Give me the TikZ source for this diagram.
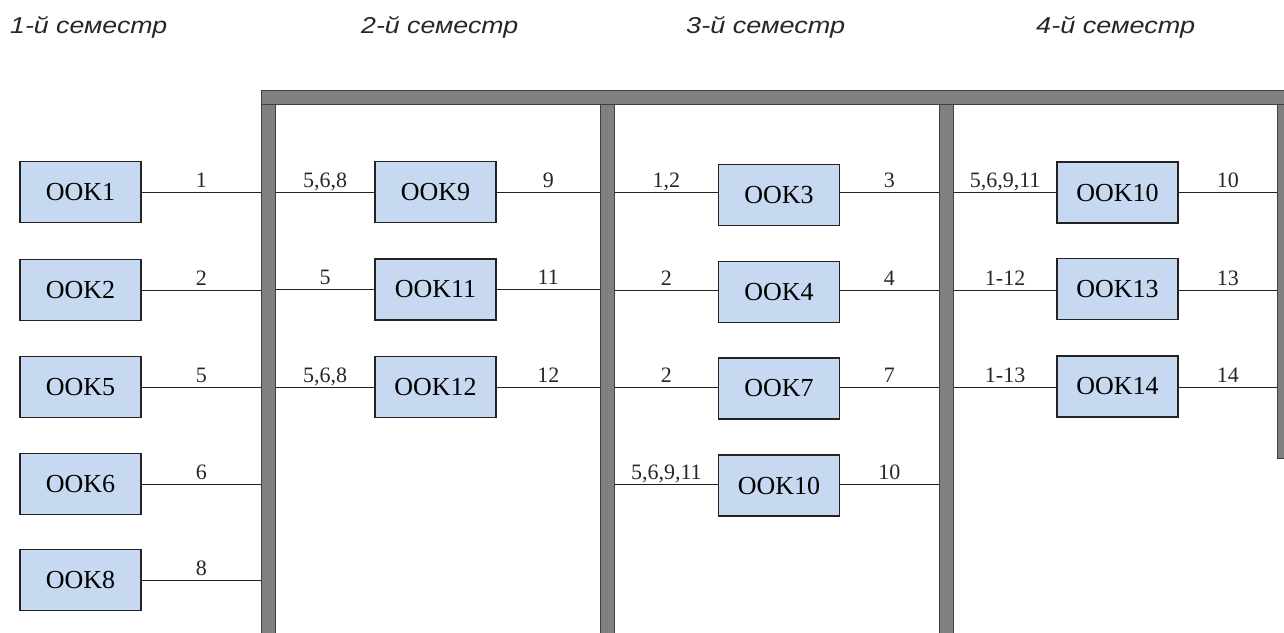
\documentclass[tikz,border=0pt]{standalone}
\usepackage{fontspec}
\setmainfont{Liberation Serif}
\newfontfamily\titlefont{Liberation Sans}
\definecolor{boxfill}{RGB}{198,217,240}
\definecolor{barfill}{RGB}{128,128,128}
\definecolor{linec}{RGB}{35,35,35}
\begin{document}
\begin{tikzpicture}[x=1pt,y=-1pt,
  ook/.style={draw=linec, line width=1.2pt, fill=boxfill, minimum width=121pt, minimum height=61pt, inner sep=0pt, font=\fontsize{26}{26}\selectfont},
  lbl/.style={anchor=base, inner sep=0pt, yshift=5pt, font=\fontsize{22}{22}\selectfont, text=black!85},
  ttl/.style={anchor=base west, inner sep=0pt, text=black!85, font=\titlefont\itshape\fontsize{23}{23}\selectfont},
  barbox/.style={draw=black!75, line width=0.8pt, fill=barfill, inner sep=0pt, anchor=north west},
  conn/.style={draw=linec, line width=1pt}]
\useasboundingbox (0,0) rectangle (1284,632);
\clip (0,0) rectangle (1284,632);
% titles
\node[ttl] (t1) at (10,33) {\resizebox{157pt}{\height}{1-й семестр}};
\node[ttl] (t2) at (361,33) {\resizebox{157pt}{\height}{2-й семестр}};
\node[ttl] (t3) at (686,33) {\resizebox{159pt}{\height}{3-й семестр}};
\node[ttl] (t4) at (1036,33) {\resizebox{159pt}{\height}{4-й семестр}};
% bars
\node[barbox, minimum width=14pt, minimum height=545pt] (bar1) at (261,100) {};
\node[barbox, minimum width=14pt, minimum height=545pt] (bar2) at (600,100) {};
\node[barbox, minimum width=14.5pt, minimum height=545pt] (bar3) at (938.5,100) {};
\node[barbox, minimum width=14pt, minimum height=358pt] (bar4) at (1277,100) {};
\node[barbox, minimum width=1040pt, minimum height=14pt] (top) at (261,90) {};
% rows
\coordinate (r1) at (0,192);
\coordinate (r2) at (0,290);
\coordinate (r3) at (0,387);
\coordinate (r4) at (0,484);
\coordinate (r5) at (0,580);
% column 1
\node[ook] (a1) at (80.5,192) {OOK1};
\node[ook] (a2) at (80.5,290) {OOK2};
\node[ook] (a5) at (80.5,387) {OOK5};
\node[ook] (a6) at (80.5,484) {OOK6};
\node[ook] (a8) at (80.5,580) {OOK8};
\draw[conn] (a1.east) -- node[lbl] {1} (a1.east -| bar1.west);
\draw[conn] (a2.east) -- node[lbl] {2} (a2.east -| bar1.west);
\draw[conn] (a5.east) -- node[lbl] {5} (a5.east -| bar1.west);
\draw[conn] (a6.east) -- node[lbl] {6} (a6.east -| bar1.west);
\draw[conn] (a8.east) -- node[lbl] {8} (a8.east -| bar1.west);
% column 2
\node[ook] (b9) at (435.5,192) {OOK9};
\node[ook] (b11) at (435.5,289.5) {OOK11};
\node[ook] (b12) at (435.5,387) {OOK12};
\draw[conn] (b9.west -| bar1.east) -- node[lbl] {5,6,8} (b9.west);
\draw[conn] (b9.east) -- node[lbl] {9} (b9.east -| bar2.west);
\draw[conn] (b11.west -| bar1.east) -- node[lbl] {5} (b11.west);
\draw[conn] (b11.east) -- node[lbl] {11} (b11.east -| bar2.west);
\draw[conn] (b12.west -| bar1.east) -- node[lbl] {5,6,8} (b12.west);
\draw[conn] (b12.east) -- node[lbl] {12} (b12.east -| bar2.west);
% column 3
\node[ook] (c3) at (779,195) {OOK3};
\node[ook] (c4) at (779,292) {OOK4};
\node[ook] (c7) at (779,388.5) {OOK7};
\node[ook] (c10) at (779,485.5) {OOK10};
\draw[conn] (bar2.east |- r1) -- node[lbl] {1,2} (c3.west |- r1);
\draw[conn] (c3.east |- r1) -- node[lbl] {3} (bar3.west |- r1);
\draw[conn] (bar2.east |- r2) -- node[lbl] {2} (c4.west |- r2);
\draw[conn] (c4.east |- r2) -- node[lbl] {4} (bar3.west |- r2);
\draw[conn] (bar2.east |- r3) -- node[lbl] {2} (c7.west |- r3);
\draw[conn] (c7.east |- r3) -- node[lbl] {7} (bar3.west |- r3);
\draw[conn] (bar2.east |- r4) -- node[lbl] {5,6,9,11} (c10.west |- r4);
\draw[conn] (c10.east |- r4) -- node[lbl] {10} (bar3.west |- r4);
% column 4
\node[ook] (d10) at (1117.5,192.5) {OOK10};
\node[ook] (d13) at (1117.5,289) {OOK13};
\node[ook] (d14) at (1117.5,386.5) {OOK14};
\draw[conn] (bar3.east |- r1) -- node[lbl] {5,6,9,11} (d10.west |- r1);
\draw[conn] (d10.east |- r1) -- node[lbl] {10} (bar4.west |- r1);
\draw[conn] (bar3.east |- r2) -- node[lbl] {1-12} (d13.west |- r2);
\draw[conn] (d13.east |- r2) -- node[lbl] {13} (bar4.west |- r2);
\draw[conn] (bar3.east |- r3) -- node[lbl] {1-13} (d14.west |- r3);
\draw[conn] (d14.east |- r3) -- node[lbl] {14} (bar4.west |- r3);
\end{tikzpicture}
\end{document}
